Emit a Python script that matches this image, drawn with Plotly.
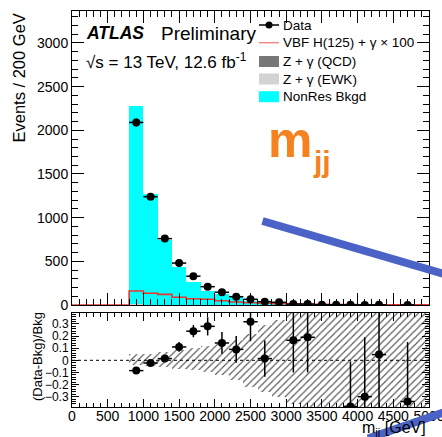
import plotly.graph_objects as go

# ---------------- data (200 GeV bins) ----------------
bkg_centers = [900, 1100, 1300, 1500, 1700, 1900, 2100, 2300, 2500, 2700, 2900,
               3100, 3300, 3500, 3700, 3900, 4100, 4300, 4500, 4700, 4900]
nonres_bkgd = [2275, 1265, 742, 432, 266, 162, 126, 86, 49, 37, 21,
               10, 9, 6, 4.5, 3.2, 2.3, 1.7, 1.2, 0.9, 0.7]
zgamma_qcd = [4, 3, 2, 1.5, 1, 0.8, 0.6, 0.4, 0.3, 0.2, 0.15,
              0.1, 0.1, 0.05, 0.05, 0.05, 0.02, 0.02, 0.02, 0.01, 0.01]
zgamma_ewk = [2, 1.5, 1.2, 0.9, 0.7, 0.5, 0.4, 0.3, 0.2, 0.15, 0.1,
              0.08, 0.06, 0.05, 0.04, 0.03, 0.02, 0.02, 0.01, 0.01, 0.01]

# signal x100, bins from 0 to 5000 GeV
vbf_edges = list(range(0, 5001, 200))
vbf_x100 = [0, 0, 0, 0, 160, 134, 122, 88, 72, 65, 49, 34, 26, 20, 15, 12,
            9, 7, 5, 4, 3, 2.5, 2, 1.5, 1]

data_centers = [900, 1100, 1300, 1500, 1700, 1900, 2100, 2300, 2500, 2700,
                2900, 3100, 3300, 3500, 3700, 3900, 4100, 4300, 4700]
data_counts = [2090, 1240, 760, 480, 330, 210, 146, 95, 65, 38,
               31, 11, 11, 3, 3, 2, 1, 2, 1]
data_err = [46, 35, 28, 22, 18, 14, 12, 10, 8, 6, 6, 3, 3, 2, 2, 1.4, 1, 1.4, 1]

ratio_centers = [900, 1100, 1300, 1500, 1700, 1900, 2100, 2300, 2500, 2700,
                 3100, 3300, 3900, 4100, 4300, 4700]
ratio_vals = [-0.085, -0.022, 0.014, 0.11, 0.24, 0.28, 0.143, 0.09, 0.318, 0.014,
              0.165, 0.19, -0.38, -0.30, 0.047, -0.34]
ratio_err = [0.012, 0.015, 0.02, 0.04, 0.05, 0.075, 0.09, 0.11, 0.16, 0.15,
             0.265, 0.29, 0.37, 0.49, 0.45, 0.49]

syst_up = [0.05, 0.055, 0.065, 0.085, 0.105, 0.12, 0.14, 0.17, 0.22, 0.29, 0.33,
           0.42, 0.6, 0.6, 0.6, 0.6, 0.6, 0.6, 0.6, 0.6, 0.6]
syst_dn = [0.04, 0.05, 0.055, 0.07, 0.08, 0.1, 0.12, 0.16, 0.22, 0.26, 0.3,
           0.36, 0.6, 0.6, 0.6, 0.6, 0.6, 0.6, 0.6, 0.6, 0.6]

FONT = "Liberation Sans, Arial, Helvetica, sans-serif"
CYAN = "#00FFFF"
RED = "#E8352B"
QCD_GRAY = "#777777"
EWK_GRAY = "#D3D3D3"
ORANGE = "#F5821F"
BLUE = "#4B63C6"

W, H = 442, 437
ML, MR, MT, MB = 72, 13, 11, 30
PW, PH = W - ML - MR, H - MT - MB


def px(x):
    return (x - ML) / PW


def py(y):
    return (H - MB - y) / PH


fig = go.Figure()

# stacked backgrounds
fig.add_trace(go.Bar(x=bkg_centers, y=zgamma_qcd, width=200, name="Z + γ (QCD)",
                     marker=dict(color=QCD_GRAY, line_width=0), xaxis="x", yaxis="y"))
fig.add_trace(go.Bar(x=bkg_centers, y=zgamma_ewk, width=200, name="Z + γ (EWK)",
                     marker=dict(color=EWK_GRAY, line_width=0), xaxis="x", yaxis="y"))
fig.add_trace(go.Bar(x=bkg_centers, y=nonres_bkgd, width=200, name="NonRes Bkgd",
                     marker=dict(color=CYAN, line_width=0), xaxis="x", yaxis="y"))

# signal step histogram
fig.add_trace(go.Scatter(x=vbf_edges, y=vbf_x100 + [vbf_x100[-1]], mode="lines",
                         line=dict(color=RED, width=1.6, shape="hv"),
                         name="VBF H(125) + γ × 100", xaxis="x", yaxis="y"))

# data points
fig.add_trace(go.Scatter(x=data_centers, y=data_counts, mode="markers", name="Data",
                         marker=dict(color="black", size=8),
                         error_x=dict(type="constant", value=100, width=0, thickness=1.5, color="black"),
                         error_y=dict(type="data", array=data_err, width=0, thickness=1.5, color="black"),
                         xaxis="x", yaxis="y"))

# ratio panel: systematic band
fig.add_trace(go.Bar(x=bkg_centers, y=[u + d for u, d in zip(syst_up, syst_dn)],
                     base=[-d for d in syst_dn], width=200,
                     marker=dict(color="rgba(0,0,0,0)", line_width=0,
                                 pattern=dict(shape="/", fgcolor="#555555", bgcolor="rgba(0,0,0,0)",
                                              size=5, solidity=0.22, fillmode="replace")),
                     xaxis="x2", yaxis="y2", showlegend=False))

fig.add_trace(go.Scatter(x=ratio_centers, y=ratio_vals, mode="markers",
                         marker=dict(color="black", size=8),
                         error_x=dict(type="constant", value=100, width=0, thickness=1.5, color="black"),
                         error_y=dict(type="data", array=ratio_err, width=0, thickness=1.5, color="black"),
                         xaxis="x2", yaxis="y2", cliponaxis=True))

axis_common = dict(showgrid=False, zeroline=False, showline=True, linecolor="black",
                   linewidth=1, mirror="ticks", ticks="inside", tickcolor="black",
                   automargin=False,
                   tickfont=dict(family=FONT, size=14, color="black"))

main_bottom = py(305)
ratio_top = py(313)

fig.update_layout(
    width=W, height=H,
    margin=dict(l=ML, r=MR, t=MT, b=MB, autoexpand=False),
    paper_bgcolor="white", plot_bgcolor="white",
    showlegend=False, barmode="stack",
    font=dict(family=FONT, color="black"),
    xaxis=dict(axis_common, domain=[0, 1], anchor="y", range=[0, 5000], tick0=0, dtick=500,
               ticklen=12, showticklabels=False,
               minor=dict(dtick=100, ticklen=6, ticks="inside", tickcolor="black")),
    yaxis=dict(axis_common, domain=[main_bottom, 1], anchor="x", range=[0, 3366], tick0=0,
               dtick=500, ticklen=12,
               minor=dict(dtick=100, ticklen=6, ticks="inside", tickcolor="black")),
    xaxis2=dict(axis_common, domain=[0, 1], anchor="y2", range=[0, 5000], tick0=0, dtick=500,
                ticklen=8, ticklabeloverflow="allow", ticklabelstandoff=-4,
                minor=dict(dtick=100, ticklen=4, ticks="inside", tickcolor="black")),
    yaxis2=dict(axis_common, domain=[0, ratio_top], anchor="x2", range=[-0.385, 0.39],
                tick0=0, dtick=0.1, ticklen=7, tickfont=dict(family=FONT, size=12, color="black"),
                minor=dict(dtick=0.02, ticklen=4, ticks="inside", tickcolor="black")),
)

shapes = []
# dashed zero line in ratio
shapes.append(dict(type="line", xref="x2", yref="y2", x0=0, x1=5000, y0=0, y1=0,
                   line=dict(color="black", width=1, dash="3px,3px")))

# legend symbols
leg_rows = [25, 42.7, 61.5, 79, 96.7]
shapes.append(dict(type="line", xref="paper", yref="paper", x0=px(259), x1=px(279),
                   y0=py(leg_rows[0]), y1=py(leg_rows[0]), line=dict(color="black", width=1.5)))
shapes.append(dict(type="circle", xref="paper", yref="paper", x0=px(265.5), x1=px(272.5),
                   y0=py(leg_rows[0] - 3.5), y1=py(leg_rows[0] + 3.5),
                   fillcolor="black", line=dict(color="black", width=0)))
shapes.append(dict(type="line", xref="paper", yref="paper", x0=px(259), x1=px(279),
                   y0=py(leg_rows[1]), y1=py(leg_rows[1]), line=dict(color="#F08A8A", width=1.5)))
for row, col in zip(leg_rows[2:], [QCD_GRAY, EWK_GRAY, CYAN]):
    shapes.append(dict(type="rect", xref="paper", yref="paper", x0=px(259), x1=px(279),
                       y0=py(row + 5.5), y1=py(row - 5.5), fillcolor=col, line=dict(width=0)))

# blue strokes
shapes.append(dict(type="line", xref="paper", yref="paper", x0=px(262.5), y0=py(221),
                   x1=px(446), y1=py(274.5), line=dict(color=BLUE, width=8)))
shapes.append(dict(type="line", xref="paper", yref="paper", x0=px(368), y0=py(438.5),
                   x1=px(446), y1=py(411.6), line=dict(color=BLUE, width=8)))

annotations = []


def txt(text, x, y, size, xanchor="left", yanchor="middle", color="black", angle=0):
    annotations.append(dict(text=text, x=px(x), y=py(y), xref="paper", yref="paper",
                            xanchor=xanchor, yanchor=yanchor, showarrow=False,
                            textangle=angle, font=dict(family=FONT, size=size, color=color)))


txt("<b><i>ATLAS</i></b>", 84, 33, 17.5)
txt("Preliminary", 159, 33, 19)
txt("√s = 13 TeV, 12.6 fb<sup>-1</sup>", 84, 61, 17)

leg_labels = ["Data", "VBF H(125) + γ × 100", "Z + γ (QCD)", "Z + γ (EWK)", "NonRes Bkgd"]
for lab, row in zip(leg_labels, leg_rows):
    txt(lab, 281, row, 13.5)

txt("Events / 200 GeV", 19, 12, 16.5, xanchor="center", yanchor="top", angle=-90)
txt("(Data-Bkg)/Bkg", 37, 357, 13, xanchor="center", yanchor="middle", angle=-90)
txt("m<sub>jj</sub> [GeV]", 428, 428, 16, xanchor="right")

txt("<b>m</b>", 266, 140, 50, color=ORANGE)
txt("<b>jj</b>", 311, 161, 30, color=ORANGE)

fig.update_layout(shapes=shapes, annotations=annotations)

fig.write_html("out.html")
